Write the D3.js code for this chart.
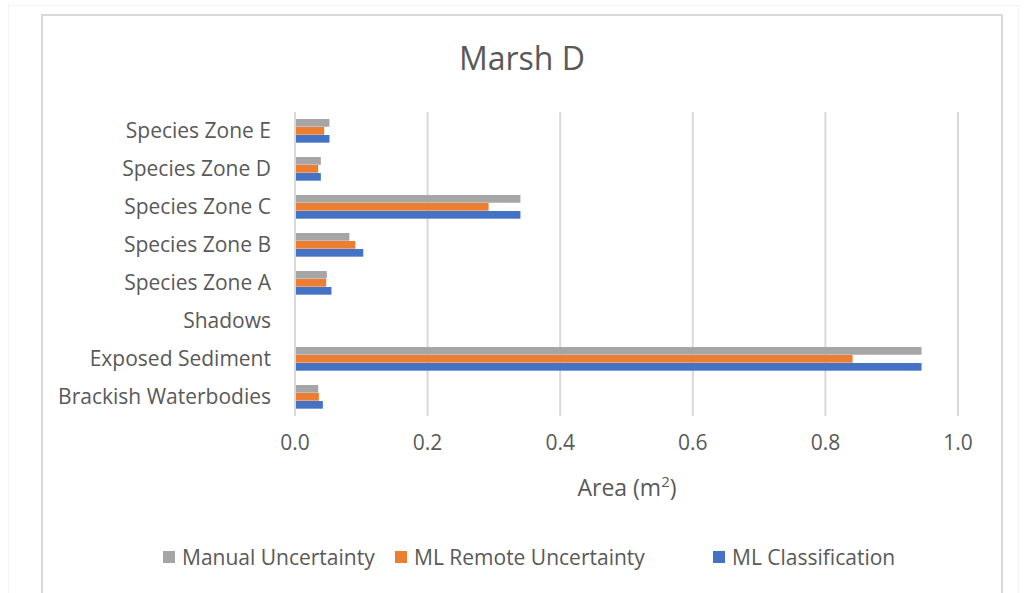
<!DOCTYPE html>
<html><head><meta charset="utf-8">
<script src="https://cdn.jsdelivr.net/npm/d3@7/dist/d3.min.js"></script>
<style>body{margin:0;background:#fff}svg{display:block}</style>
</head><body><svg id="c" width="1024" height="593"></svg>
<script>
const categories = ["Species Zone E","Species Zone D","Species Zone C","Species Zone B","Species Zone A","Shadows","Exposed Sediment","Brackish Waterbodies"];
const seriesNames = ["Manual Uncertainty","ML Remote Uncertainty","ML Classification"];
const manualUncertainty = [0.052,0.039,0.340,0.082,0.048,0,0.945,0.035];
const mlRemoteUncertainty = [0.044,0.035,0.292,0.091,0.047,0,0.841,0.036];
const mlClassification = [0.052,0.039,0.340,0.103,0.055,0,0.945,0.042];
const xTicks = [0,0.2,0.4,0.6,0.8,1.0];
const colors = ["#a5a5a5","#ed7d31","#4472c4"];
const seriesValues = [manualUncertainty, mlRemoteUncertainty, mlClassification];

const svg = d3.select("#c");
const font = "'Open Sans', sans-serif";
const txt = "#595959";

// chart border
svg.append("rect").attr("x",8.5).attr("y",5.5).attr("width",1010).attr("height",600).attr("fill","none").attr("stroke","#f4f4f4");
svg.append("rect").attr("x",42).attr("y",15).attr("width",960).attr("height",600).attr("fill","#fff").attr("stroke","#d9d9d9").attr("stroke-width",2);

const x = d3.scaleLinear().domain([0,1.0]).range([295,958]);
const y = d3.scaleBand().domain(categories).range([112,416]).paddingInner(0.37).paddingOuter(0.185);
const sub = d3.scaleBand().domain(seriesNames).range([0,y.bandwidth()]);

// gridlines
svg.append("g").selectAll("line").data(xTicks).join("line")
  .attr("x1",d=>x(d)).attr("x2",d=>x(d)).attr("y1",112).attr("y2",416)
  .attr("stroke","#d9d9d9").attr("stroke-width",2);

// bars
seriesNames.forEach((s,i)=>{
  svg.append("g").selectAll("rect").data(categories).join("rect")
    .attr("x",x(0)+1).attr("y",c=>y(c)+sub(s))
    .attr("width",(c,j)=>Math.max(0,x(seriesValues[i][j])-x(0)-1))
    .attr("height",sub.bandwidth()-0.3)
    .attr("fill",colors[i]);
});

// y labels
svg.append("g").selectAll("text").data(categories).join("text")
  .attr("x",271).attr("y",c=>y(c)+y.bandwidth()/2)
  .attr("dy","0.35em").attr("text-anchor","end")
  .attr("font-family",font).attr("font-size",21).attr("fill",txt).text(c=>c);

// x ticks
svg.append("g").selectAll("text").data(xTicks).join("text")
  .attr("x",d=>x(d)).attr("y",450).attr("text-anchor","middle")
  .attr("font-family",font).attr("font-size",21).attr("fill",txt).text(d=>d.toFixed(1));

// axis title
const at = svg.append("text").attr("x",627).attr("y",496).attr("text-anchor","middle")
  .attr("font-family",font).attr("font-size",23).attr("fill",txt);
at.append("tspan").text("Area (m");
at.append("tspan").attr("dy",-9).attr("font-size",15).text("2");
at.append("tspan").attr("dy",9).text(")");

// title
svg.append("text").attr("x",522).attr("y",70).attr("text-anchor","middle")
  .attr("font-family",font).attr("font-size",32).attr("fill",txt).text("Marsh D");

// legend
const legX = [163,395,713];
seriesNames.forEach((s,i)=>{
  svg.append("rect").attr("x",legX[i]).attr("y",551).attr("width",12).attr("height",12).attr("fill",colors[i]);
  svg.append("text").attr("x",legX[i]+19).attr("y",565).attr("font-family",font).attr("font-size",21).attr("fill",txt).text(s);
});
</script></body></html>
